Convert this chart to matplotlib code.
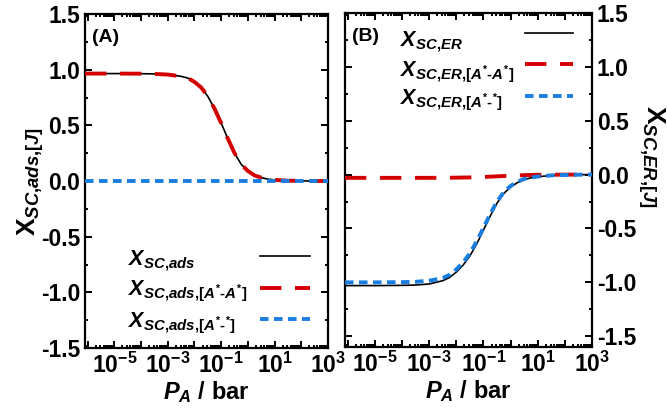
import numpy as np
import matplotlib
matplotlib.use("Agg")
import matplotlib.pyplot as plt
from matplotlib.lines import Line2D
from matplotlib.ticker import FixedLocator, LogLocator, NullFormatter, FuncFormatter, MultipleLocator

plt.rcParams['font.family'] = ['Liberation Sans', 'DejaVu Sans']
plt.rcParams['font.weight'] = 'bold'
plt.rcParams['mathtext.fontset'] = 'custom'
plt.rcParams['mathtext.rm'] = 'Liberation Sans:bold'
plt.rcParams['mathtext.it'] = 'Liberation Sans:bold:italic'
plt.rcParams['mathtext.bf'] = 'Liberation Sans:bold'
plt.rcParams['axes.unicode_minus'] = False

# log10 of pressure (bar) where the curves were read
log_p = [-6.1, -5, -4, -3.5, -3, -2.5, -2.25, -2, -1.75, -1.5, -1.25, -1,
         -0.75, -0.5, -0.25, 0, 0.25, 0.5, 0.75, 1, 1.5, 2, 2.5, 3]

# panel A
x_ads = [0.965, 0.965, 0.964, 0.962, 0.956, 0.94, 0.925, 0.89, 0.84, 0.76, 0.65, 0.52,
         0.38, 0.25, 0.15, 0.09, 0.05, 0.03, 0.017, 0.01, 0.003, 0.001, 0.0, 0.0]
x_ads_aa = [0.965, 0.965, 0.964, 0.962, 0.956, 0.94, 0.925, 0.89, 0.84, 0.76, 0.65, 0.52,
            0.38, 0.25, 0.15, 0.09, 0.05, 0.03, 0.017, 0.01, 0.003, 0.001, 0.0, 0.0]
x_ads_as = [0.0] * 24

# panel B
x_er = [-1.03, -1.03, -1.028, -1.025, -1.015, -0.985, -0.955, -0.905, -0.84, -0.755, -0.645, -0.515,
        -0.385, -0.265, -0.175, -0.115, -0.075, -0.045, -0.03, -0.02, -0.008, -0.003, -0.001, 0.0]
x_er_aa = [-0.03, -0.03, -0.03, -0.03, -0.03, -0.029, -0.029, -0.028, -0.027, -0.026, -0.024, -0.022,
           -0.019, -0.016, -0.013, -0.01, -0.008, -0.005, -0.003, -0.002, -0.001, 0.0, 0.0, 0.0]
x_er_as = [-1.0, -1.0, -0.998, -0.995, -0.985, -0.96, -0.93, -0.88, -0.815, -0.73, -0.62, -0.495,
           -0.365, -0.25, -0.162, -0.105, -0.067, -0.04, -0.027, -0.018, -0.007, -0.003, -0.001, 0.0]

labels_A = [r'$X_{SC{,}ads}$', r'$X_{SC{,}ads{,}[A^{*}\text{-}A^{*}]}$',
            r'$X_{SC{,}ads{,}[A^{*}\text{-}^{*}]}$']
labels_B = [r'$X_{SC{,}ER}$', r'$X_{SC{,}ER{,}[A^{*}\text{-}A^{*}]}$',
            r'$X_{SC{,}ER{,}[A^{*}\text{-}^{*}]}$']

P = 10.0 ** np.array(log_p)

red = '#d40000'
blue = '#1a7ee0'
styles = [dict(color='black', lw=1.2),
          dict(color=red, lw=2.8, dashes=(5.5, 3.5)),
          dict(color=blue, lw=2.8, dashes=(2.2, 1.4))]

fig = plt.figure(figsize=(6.67, 4.12), dpi=100)
axA = fig.add_axes([0.1274, 0.1553, 0.3644, 0.8107])
axB = fig.add_axes([0.5172, 0.1578, 0.3704, 0.8106])


def xfmt(v, pos):
    e = int(round(np.log10(v)))
    if e % 2 == 0:
        return ''
    return r'$10^{%d}$' % e


def style(ax, ylim):
    ax.set_xscale('log')
    ax.set_xlim(10 ** -6.1, 1e3)
    ax.set_ylim(*ylim)
    ax.xaxis.set_major_locator(FixedLocator([10.0 ** e for e in range(-6, 4)]))
    ax.xaxis.set_major_formatter(FuncFormatter(xfmt))
    ax.xaxis.set_minor_locator(LogLocator(base=10, subs=np.arange(2, 10), numticks=100))
    ax.xaxis.set_minor_formatter(NullFormatter())
    ax.yaxis.set_major_locator(MultipleLocator(0.5))
    ax.yaxis.set_minor_locator(MultipleLocator(0.25))
    ax.yaxis.set_major_formatter(FuncFormatter(lambda v, p: '%.1f' % v))
    ax.tick_params(which='both', direction='in', top=True, right=True, left=True, width=1.4,
                   labelsize=16.5)
    ax.tick_params(which='major', length=5)
    ax.tick_params(which='minor', length=2.5)
    for s in ax.spines.values():
        s.set_linewidth(1.6)
    ax.set_xlabel(r'$P_A$ / bar', fontsize=17, fontweight='bold', labelpad=1)


# legend with left-aligned text and the line samples in a column on the right
def legend(ax, labels, text_x, text_y, line_x, line_y):
    for lab, ty, ly, st in zip(labels, text_y, line_y, styles):
        ax.text(text_x, ty, lab, transform=ax.transAxes, fontsize=15.5, va='baseline', ha='left')
        ax.add_line(Line2D(line_x, [ly, ly], transform=ax.transAxes, clip_on=False, **st))


style(axA, (-1.5, 1.5))
style(axB, (-1.6, 1.5))
axB.tick_params(which='both', labelleft=False, labelright=True)

for y, st in zip([x_ads, x_ads_aa, x_ads_as], styles):
    axA.plot(P, y, zorder=3, **st)
for y, st in zip([x_er, x_er_aa, x_er_as], styles):
    axB.plot(P, y, zorder=3, **st)

legend(axA, labels_A, 0.177, [0.249, 0.159, 0.063], [0.72, 0.926], [0.275, 0.180, 0.087])
legend(axB, labels_B, 0.223, [0.901, 0.811, 0.725], [0.729, 0.923], [0.940, 0.847, 0.751])

axA.text(0.03, 0.955, '(A)', transform=axA.transAxes, fontsize=14, fontweight='bold',
         va='top', ha='left')
axB.text(0.03, 0.955, '(B)', transform=axB.transAxes, fontsize=14, fontweight='bold',
         va='top', ha='left')

axA.set_ylabel(r'$\mathrm{X}_{\mathit{SC{,}ads{,}[J]}}$', fontsize=19)
axA.yaxis.set_label_coords(-0.16, 0.5)
axB.yaxis.set_label_position('right')
axB.set_ylabel(r'$\mathrm{X}_{\mathit{SC{,}ER{,}[J]}}$', fontsize=19, rotation=-90, va='bottom')
axB.yaxis.set_label_coords(1.18, 0.57)

fig.savefig('out.png', dpi=100)
